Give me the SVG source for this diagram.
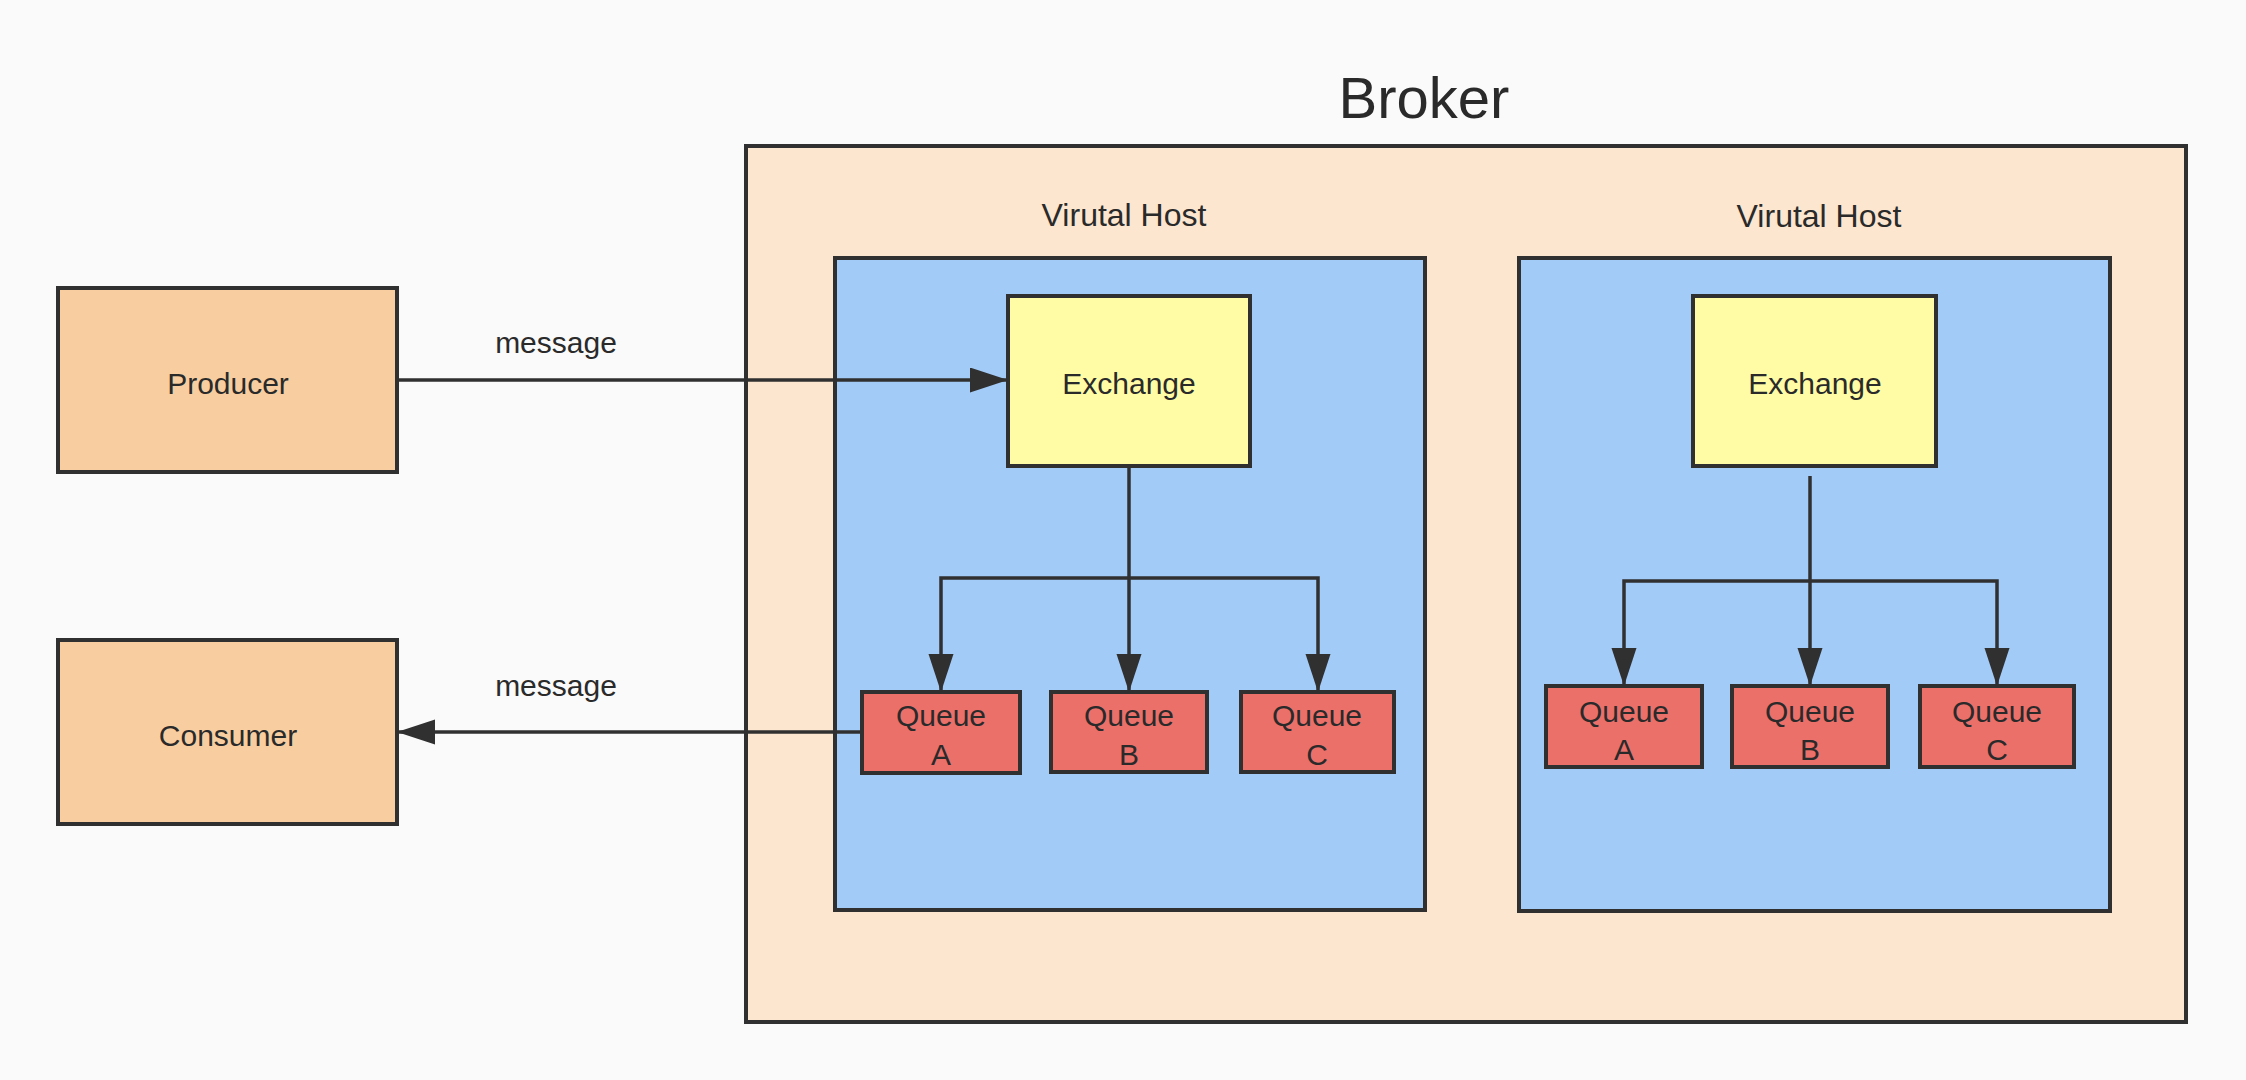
<svg xmlns="http://www.w3.org/2000/svg" width="2246" height="1080" viewBox="0 0 2246 1080">
<style>
.box{stroke:#303030;stroke-width:4}
.client{fill:#f8cea0}
.broker{fill:#fce6cf}
.vhost{fill:#a3cbf8}
.exch{fill:#fffca5}
.queue{fill:#ec706a}
.conn{fill:none;stroke:#303030;stroke-width:3.5}
text{font-family:"Liberation Sans",Arial,Helvetica,sans-serif;fill:#2a2a2a;text-anchor:middle}
.t{font-size:30px}
.vh{font-size:32px}
.big{font-size:58px}
</style>
<defs>
<marker id="arr" markerUnits="userSpaceOnUse" markerWidth="38" markerHeight="26" refX="38" refY="12.5" orient="auto">
<path d="M0,0 L38,12.5 L0,25 z" fill="#303030"/>
</marker>
</defs>
<rect width="2246" height="1080" fill="#fafafa"/>
<g id="broker">
<rect class="box broker" x="746" y="146" width="1440" height="876"/>
<text class="big" x="1424" y="118">Broker</text>
</g>
<g id="vhost1">
<rect class="box vhost" x="835" y="258" width="590" height="652"/>
<text class="vh" x="1124" y="226">Virutal Host</text>
</g>
<g id="vhost2">
<rect class="box vhost" x="1519" y="258" width="591" height="653"/>
<text class="vh" x="1819" y="227">Virutal Host</text>
</g>
<g id="producer">
<rect class="box client" x="58" y="288" width="339" height="184"/>
<text class="t" x="228" y="394">Producer</text>
</g>
<g id="consumer">
<rect class="box client" x="58" y="640" width="339" height="184"/>
<text class="t" x="228" y="746">Consumer</text>
</g>
<g id="exchange1">
<rect class="box exch" x="1008" y="296" width="242" height="170"/>
<text class="t" x="1129" y="394">Exchange</text>
</g>
<g id="exchange2">
<rect class="box exch" x="1693" y="296" width="243" height="170"/>
<text class="t" x="1815" y="394">Exchange</text>
</g>
<g id="queue1a">
<rect class="box queue" x="862" y="692" width="158" height="81"/>
<text class="t" x="941" y="726">Queue</text><text class="t" x="941" y="765">A</text>
</g>
<g id="queue1b">
<rect class="box queue" x="1051" y="692" width="156" height="80"/>
<text class="t" x="1129" y="726">Queue</text><text class="t" x="1129" y="765">B</text>
</g>
<g id="queue1c">
<rect class="box queue" x="1241" y="692" width="153" height="80"/>
<text class="t" x="1317" y="726">Queue</text><text class="t" x="1317" y="765">C</text>
</g>
<g id="queue2a">
<rect class="box queue" x="1546" y="686" width="156" height="81"/>
<text class="t" x="1624" y="722">Queue</text><text class="t" x="1624" y="760">A</text>
</g>
<g id="queue2b">
<rect class="box queue" x="1732" y="686" width="156" height="81"/>
<text class="t" x="1810" y="722">Queue</text><text class="t" x="1810" y="760">B</text>
</g>
<g id="queue2c">
<rect class="box queue" x="1920" y="686" width="154" height="81"/>
<text class="t" x="1997" y="722">Queue</text><text class="t" x="1997" y="760">C</text>
</g>
<g id="connectors">
<path class="conn" d="M397,380 L1008,380" marker-end="url(#arr)"/>
<text class="t" x="556" y="353">message</text>
<path class="conn" d="M862,732 L397,732" marker-end="url(#arr)"/>
<text class="t" x="556" y="696">message</text>
<path class="conn" d="M1129,466 L1129,692" marker-end="url(#arr)"/>
<path class="conn" d="M1129,578 L941,578 L941,692" marker-end="url(#arr)"/>
<path class="conn" d="M1129,578 L1318,578 L1318,692" marker-end="url(#arr)"/>
<path class="conn" d="M1810,476 L1810,686" marker-end="url(#arr)"/>
<path class="conn" d="M1810,581 L1624,581 L1624,686" marker-end="url(#arr)"/>
<path class="conn" d="M1810,581 L1997,581 L1997,686" marker-end="url(#arr)"/>
</g>
</svg>
